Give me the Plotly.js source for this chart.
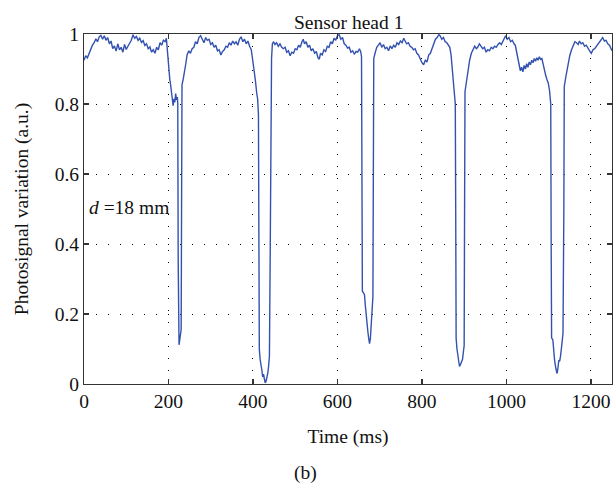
<!DOCTYPE html>
<html>
<head>
<meta charset="utf-8">
<script src="https://cdn.plot.ly/plotly-3.0.1.min.js"></script>
<style>html,body{margin:0;padding:0;background:#fff;}#chart{width:613px;height:489px;}</style>
</head>
<body>
<div id="chart"></div>
<script>
// Time (ms) and photosignal values
const timeA = [0,4,8,12,16,20,24,28,32,36,40,44,48,52,56,60,64,68,72,76,80,84,88,92,96,100,104,108,112,116,120,124,128,132,136,140,144,148,152,156,160,164,168,172,176,180,184,188,192,195,
  197,200,203,205,207,209,211,213,215,217,219,221,222,223,224,225,226,228,230,231,232,235,238,241,244];
const signalA = [0.925,0.938,0.932,0.945,0.952,0.968,0.975,0.986,0.978,0.992,0.996,0.985,0.995,0.982,0.99,0.972,0.98,0.958,0.966,0.951,0.972,0.955,0.962,0.948,0.97,0.956,0.965,0.975,0.982,0.998,0.988,0.993,0.982,0.988,0.976,0.981,0.967,0.972,0.958,0.963,0.948,0.955,0.945,0.962,0.955,0.975,0.968,0.982,0.978,0.988,
  0.955,0.9,0.872,0.855,0.83,0.81,0.795,0.815,0.805,0.83,0.812,0.82,0.80,0.35,0.14,0.112,0.12,0.148,0.155,0.5,0.855,0.872,0.89,0.915,0.94];

const timeB = [248,252,256,260,264,268,272,276,280,284,288,292,296,300,304,308,312,316,320,324,328,332,336,340,344,348,352,356,360,364,368,372,376,380,384,388,392,396,400,403,406,409,411,413,414,
  415,417,419,421,423,425,427,429,431,433,435,437,439,441,442,444,446];
const signalB = [0.952,0.945,0.958,0.962,0.978,0.972,0.99,0.995,0.982,0.975,0.99,0.982,0.985,0.97,0.975,0.962,0.968,0.952,0.955,0.94,0.95,0.955,0.965,0.962,0.975,0.968,0.98,0.972,0.978,0.968,0.985,0.992,0.978,0.985,0.972,0.98,0.965,0.955,0.92,0.895,0.865,0.83,0.815,0.77,0.5,
  0.1,0.07,0.058,0.04,0.02,0.028,0.015,0.003,0.008,0.018,0.03,0.05,0.08,0.4,0.82,0.93,0.972];

const timeC = [449,452,456,460,464,468,472,476,480,484,488,492,496,500,504,508,512,516,519,522,526,530,534,538,542,546,550,554,557,560,564,568,572,576,580,584,588,592,596,600,604,608,612,616,620,624,628,632,636,640,644,648,652,655,657,
  658,659,662,664,666,668,670,672,674,676,678,680,682,684,685,686];
const signalC = [0.978,0.97,0.975,0.965,0.972,0.962,0.958,0.962,0.948,0.952,0.938,0.948,0.945,0.958,0.955,0.968,0.962,0.978,0.985,0.972,0.978,0.962,0.968,0.952,0.958,0.945,0.95,0.932,0.928,0.945,0.94,0.955,0.95,0.965,0.962,0.978,0.972,0.988,0.982,0.995,0.998,0.985,0.99,0.972,0.968,0.96,0.962,0.948,0.952,0.942,0.95,0.948,0.958,0.95,0.935,
  0.6,0.265,0.26,0.255,0.225,0.19,0.165,0.15,0.13,0.115,0.13,0.165,0.2,0.25,0.6,0.93];

const timeD = [689,693,697,701,705,709,713,717,721,725,729,733,737,741,745,749,753,757,761,764,768,772,776,780,784,788,792,796,800,804,808,812,816,820,824,828,832,836,840,843,847,851,855,859,863,866,869,872,875,877,879,
  880,881,883,885,887,889,891,893,896,898,900,901,902];
const signalD = [0.945,0.962,0.968,0.975,0.962,0.97,0.958,0.962,0.952,0.966,0.958,0.968,0.962,0.975,0.97,0.98,0.975,0.988,0.978,0.972,0.975,0.965,0.962,0.955,0.958,0.945,0.94,0.928,0.918,0.912,0.925,0.92,0.94,0.945,0.96,0.972,0.985,0.99,0.998,0.995,0.985,0.99,0.978,0.975,0.965,0.962,0.94,0.895,0.86,0.835,0.80,
  0.5,0.13,0.1,0.078,0.06,0.05,0.055,0.062,0.07,0.09,0.11,0.5,0.835];

const timeE = [905,909,913,917,921,925,929,932,936,940,944,948,952,956,960,964,968,972,976,980,984,988,992,995,998,1002,1006,1010,1014,1018,1021,1024,1027,1030,1033,1036,1039,1042,1045,1048,1051,1054,1057,1060,1063,1066,1069,1072,1075,1078,1081,1084,1087,1090,1093,1096,1099,1102,1104,1105,
  1106,1107,1110,1112,1114,1117,1120,1122,1124,1126,1128,1131,1134,1136,1137,
  1141,1146,1150,1154,1158,1162,1166,1170,1173,1177,1181,1185,1189,1193,1197,1201,1205,1209,1213,1217,1221,1225,1228,1232,1236,1240,1244,1247,1250];
const signalE = [0.86,0.897,0.925,0.945,0.958,0.965,0.958,0.962,0.972,0.965,0.958,0.962,0.948,0.955,0.952,0.962,0.958,0.965,0.962,0.97,0.975,0.97,0.982,0.988,0.995,0.985,0.99,0.978,0.982,0.972,0.968,0.95,0.93,0.915,0.895,0.905,0.892,0.91,0.9,0.915,0.905,0.92,0.912,0.925,0.918,0.93,0.922,0.932,0.925,0.935,0.928,0.93,0.912,0.89,0.882,0.87,0.86,0.84,0.815,0.80,
  0.4,0.132,0.126,0.09,0.069,0.045,0.03,0.045,0.068,0.065,0.078,0.11,0.145,0.5,0.85,
  0.88,0.916,0.938,0.954,0.968,0.978,0.975,0.97,0.98,0.972,0.975,0.965,0.968,0.958,0.952,0.945,0.955,0.958,0.965,0.97,0.978,0.985,0.99,0.98,0.982,0.972,0.968,0.96,0.952];

const xTicks = [0,200,400,600,800,1000,1200];
const yTicks = [0,0.2,0.4,0.6,0.8,1];
const yTickLabels = ['0','0.2','0.4','0.6','0.8','1'];

const timeMs = timeA.concat(timeB, timeC, timeD, timeE);
const signal = signalA.concat(signalB, signalC, signalD, signalE);

const FONT = 'Liberation Serif, Times New Roman, serif';
const FS = 19.5;

const trace = {
  x: timeMs, y: signal, type: 'scatter', mode: 'lines',
  line: {color: '#3352b0', width: 1.4},
  hoverinfo: 'none', cliponaxis: true
};

const axisCommon = {
  showline: true, linecolor: '#333', linewidth: 1, mirror: 'ticks',
  ticks: 'inside', ticklen: 5, tickwidth: 1.3, tickcolor: '#333',
  showgrid: true, gridcolor: '#000', gridwidth: 1, griddash: '1px,11px',
  zeroline: false, tickfont: {family: FONT, size: FS, color: '#111'}
};

const layout = {
  width: 613, height: 489,
  margin: {l: 84, r: 1, t: 34, b: 105},
  paper_bgcolor: '#fff', plot_bgcolor: '#fff',
  showlegend: false,
  xaxis: Object.assign({}, axisCommon, {
    range: [0, 1250], tickvals: xTicks, ticktext: xTicks.map(String),
    title: {text: 'Time (ms)', font: {family: FONT, size: FS, color: '#111'}, standoff: 17}
  }),
  yaxis: Object.assign({}, axisCommon, {
    range: [0, 1], tickvals: yTicks, ticktext: yTickLabels,
    title: {text: 'Photosignal variation (a.u.)', font: {family: FONT, size: FS, color: '#111'}, standoff: 20}
  }),
  annotations: [
    {text: 'Sensor head 1', xref: 'paper', yref: 'paper', x: 0.5, y: 1, xanchor: 'center', yanchor: 'bottom', yshift: -1, showarrow: false, font: {family: FONT, size: FS, color: '#111'}},
    {text: '<i>d</i> =18 mm', xref: 'x', yref: 'y', x: 6, y: 0.503, xanchor: 'left', yanchor: 'middle', showarrow: false, font: {family: FONT, size: FS, color: '#111'}},
    {text: '(b)', xref: 'paper', yref: 'paper', x: 0.42, y: 0, xanchor: 'center', yanchor: 'middle', yshift: -89, showarrow: false, font: {family: FONT, size: FS, color: '#111'}}
  ]
};

Plotly.newPlot('chart', [trace], layout, {staticPlot: true, displayModeBar: false});
</script>
</body>
</html>
